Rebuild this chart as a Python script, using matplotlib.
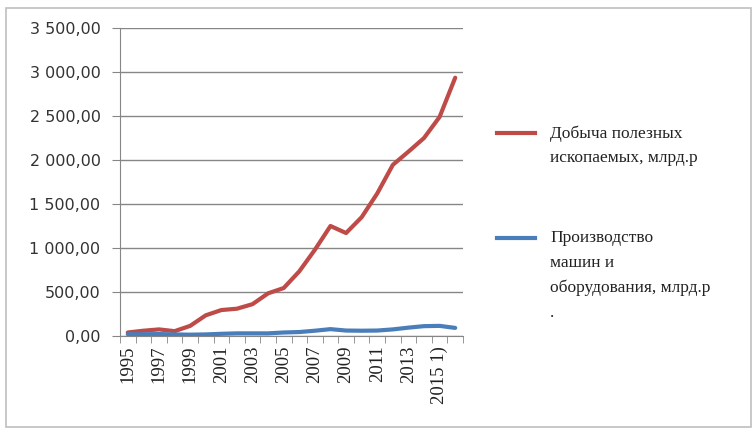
import matplotlib
matplotlib.use("Agg")
import matplotlib.pyplot as plt
from matplotlib.lines import Line2D
from matplotlib.patches import Rectangle
import numpy as np

years = list(range(1995, 2017))
tick_labels = ["1995", "1997", "1999", "2001", "2003", "2005", "2007",
               "2009", "2011", "2013", "2015 1)"]
mining = [40, 60, 75, 55, 115, 235, 295, 310, 362, 485, 545, 735, 980,
          1250, 1170, 1350, 1620, 1945, 2095, 2250, 2490, 2935]
machinery = [20, 20, 22, 18, 15, 18, 25, 30, 30, 30, 40, 45, 60, 78,
             62, 60, 62, 75, 95, 112, 115, 92]
series_names = ["Добыча полезных\nископаемых, млрд.р",
                "Производство\nмашин и\nоборудования, млрд.р\n."]
yticks = [0, 500, 1000, 1500, 2000, 2500, 3000, 3500]

red = "#BE4B48"
blue = "#4A7EBB"

fig = plt.figure(figsize=(7.54, 4.30), dpi=100)
fig.patch.set_facecolor("white")
fig.add_artist(Rectangle((6/754, 3/430), 745/754, 419/430, transform=fig.transFigure,
                         fill=False, edgecolor="#BFBFBF", lw=1.2))

ax = fig.add_axes([120/754, 1-336/430, 343/754, 308/430])
x = np.arange(len(years))
ax.plot(x, mining, color=red, lw=3, solid_capstyle="round", zorder=3)
ax.plot(x, machinery, color=blue, lw=3, solid_capstyle="round", zorder=3)

ax.set_xlim(-0.5, len(years) - 0.5)
ax.set_ylim(0, 3500)
ax.set_yticks(yticks)
ax.set_yticklabels([f"{v:,.2f}".replace(",", " ").replace(".", ",") for v in yticks],
                   fontfamily="DejaVu Sans", fontsize=11.5, color="#333333")
ax.set_xticks(x[::2])
ax.set_xticklabels(tick_labels, rotation=90, fontfamily="Liberation Serif",
                   fontsize=13.5, color="#222222")
ax.set_xticks(np.arange(-0.5, len(years)), minor=True)
ax.tick_params(axis="x", which="major", length=0, pad=7)
ax.tick_params(axis="x", which="minor", length=5, color="#868686", direction="out")
ax.tick_params(axis="y", length=6, color="#868686", direction="out", pad=8)
ax.grid(axis="y", color="#868686", lw=1)
ax.set_axisbelow(True)
for s in ["top", "right"]:
    ax.spines[s].set_visible(False)
ax.spines["left"].set_color("#868686")
ax.spines["bottom"].set_color("#868686")

# legend
colors = [red, blue]
ypos = [133, 238]
for name, c, yp in zip(series_names, colors, ypos):
    fig.add_artist(Line2D([497/754, 535/754], [1-yp/430, 1-yp/430],
                          transform=fig.transFigure, color=c, lw=3))
    fig.text(550/754, 1-(yp-8)/430, name, fontfamily="Liberation Serif",
             fontsize=12.5, va="top", ha="left", linespacing=1.72, color="#222222")

fig.savefig("out.png", dpi=100)
